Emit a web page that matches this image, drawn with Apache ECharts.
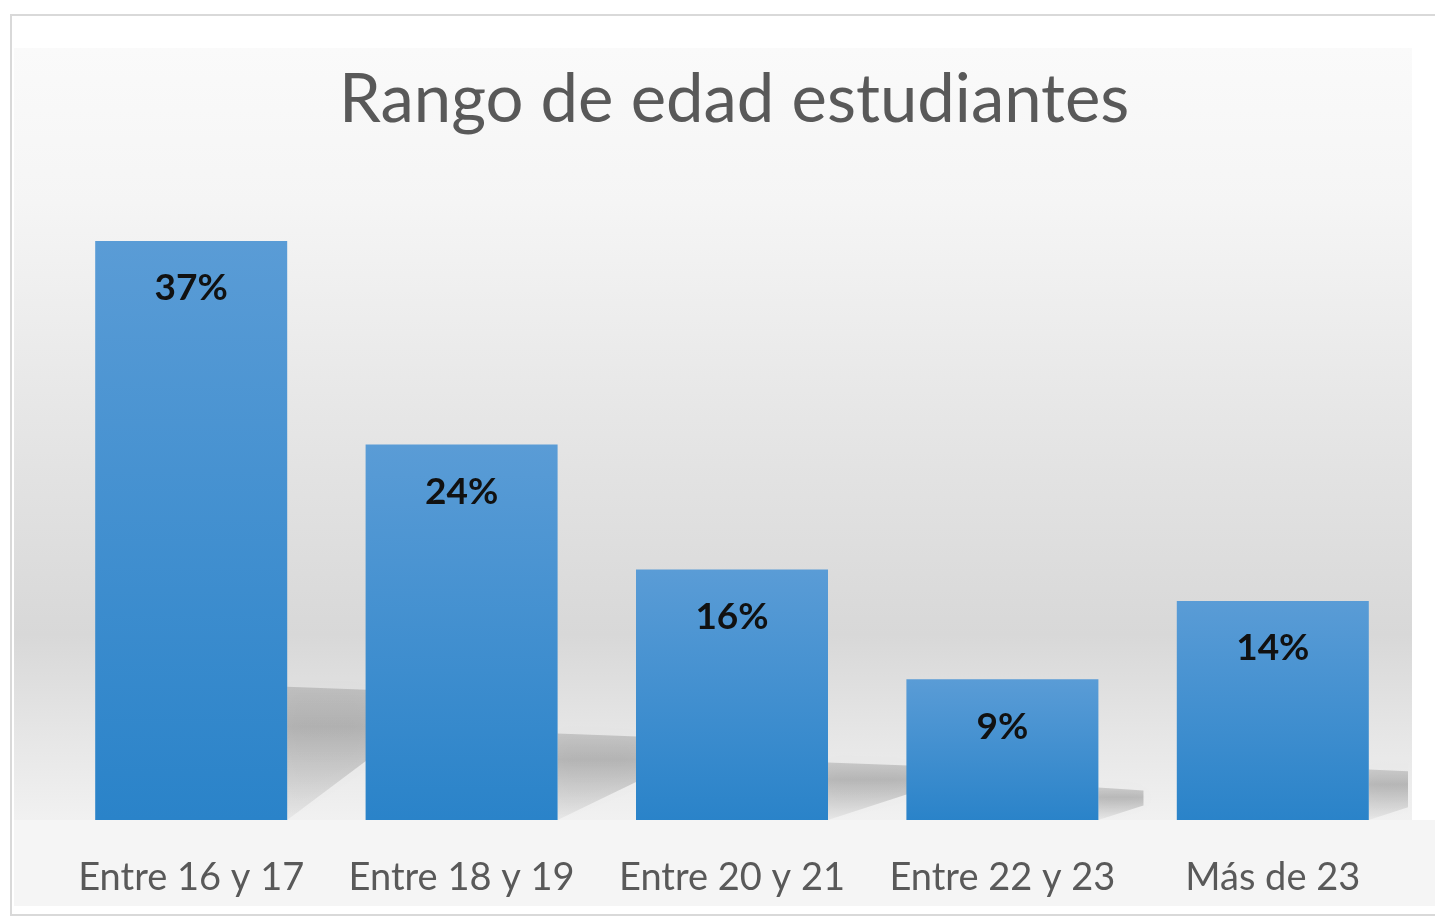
<!DOCTYPE html>
<html>
<head>
<meta charset="utf-8">
<style>
  html, body { margin: 0; padding: 0; background: #fff; }
  #chart { width: 1435px; height: 921px; }
</style>
<script src="https://cdn.jsdelivr.net/npm/echarts@6/dist/echarts.min.js"></script>
</head>
<body>
<div id="chart"></div>
<script>
  var categories = ['Entre 16 y 17', 'Entre 18 y 19', 'Entre 20 y 21', 'Entre 22 y 23', 'Más de 23']
  var values = [37, 24, 16, 9, 14]

  var mChart = echarts.init(document.getElementById('chart'))

  // sombra "3D" detrás de cada barra
  function renderShadow(params, api) {
    var base = api.coord([api.value(0), 0])
    var top = api.coord([api.value(0), api.value(1)])
    var r = base[0] + 96
    var h = base[1] - top[1]
    var sh = h * 0.23
    var st = base[1] - sh
    var w = Math.min(80, h * 0.32)
    return {
      type: 'polygon',
      shape: {
        points: [[r, st], [r + w, st + 3], [r + w, base[1] - sh * 0.45], [r, base[1]]]
      },
      style: {
        fill: {
          type: 'linear', x: 0, y: 0, x2: 0, y2: 1,
          colorStops: [
            {offset: 0, color: 'rgba(0,0,0,0.14)'},
            {offset: 0.3, color: 'rgba(0,0,0,0.21)'},
            {offset: 1, color: 'rgba(0,0,0,0.04)'}
          ]
        },
        shadowBlur: 16,
        shadowColor: 'rgba(0,0,0,0.1)'
      }
    }
  }

  var option = {
    animation: false,
    title: {
      text: 'Rango de edad estudiantes',
      left: 334,
      top: 62,
      textStyle: {
        fontFamily: 'Lato',
        fontWeight: 'normal',
        fontSize: 67,
        color: '#595959'
      }
    },
    graphic: [
      {
        type: 'rect', z: -10, silent: true,
        shape: {x: 11, y: 15, width: 1440, height: 900},
        style: {fill: '#fff', stroke: '#d9d9d9', lineWidth: 2}
      },
      {
        type: 'rect', z: -9, silent: true,
        shape: {x: 14, y: 48, width: 1398, height: 772},
        style: {
          fill: {
            type: 'linear', x: 0, y: 0, x2: 0, y2: 1,
            colorStops: [
              {offset: 0, color: '#fafafa'},
              {offset: 0.2, color: '#f5f5f5'},
              {offset: 0.5, color: '#e5e5e5'},
              {offset: 0.76, color: '#d8d8d8'},
              {offset: 0.9, color: '#e7e7e7'},
              {offset: 1, color: '#f1f1f1'}
            ]
          }
        }
      },
      {
        type: 'rect', z: -9, silent: true,
        shape: {x: 14, y: 820, width: 1421, height: 86},
        style: {fill: '#f5f5f5'}
      }
    ],
    grid: {
      left: 56,
      right: 27,
      top: 194,
      bottom: 101
    },
    xAxis: {
      type: 'category',
      data: categories,
      axisLine: {show: false},
      axisTick: {show: false},
      axisLabel: {
        interval: 0,
        margin: 39,
        fontFamily: 'Lato',
        fontSize: 38,
        color: '#595959'
      }
    },
    yAxis: {
      type: 'value',
      min: 0,
      max: 40,
      show: false,
      splitLine: {show: false}
    },
    series: [
      {
        type: 'custom',
        renderItem: renderShadow,
        clip: true,
        z: 1,
        silent: true,
        data: values.map(function (v, i) { return [i, v] })
      },
      {
        type: 'bar',
        data: values,
        barWidth: 192,
        z: 3,
        itemStyle: {
          color: {
            type: 'linear', x: 0, y: 0, x2: 0, y2: 1,
            colorStops: [
              {offset: 0, color: '#5a9cd6'},
              {offset: 1, color: '#2a83c9'}
            ]
          }
        },
        label: {
          show: true,
          position: 'insideTop',
          distance: 29,
          formatter: '{c}%',
          fontFamily: 'Lato',
          fontWeight: 'bold',
          fontSize: 37,
          color: '#111'
        }
      }
    ]
  }
  mChart.setOption(option)
  window.addEventListener('resize', function () {
    mChart.resize()
  })
</script>
</body>
</html>
